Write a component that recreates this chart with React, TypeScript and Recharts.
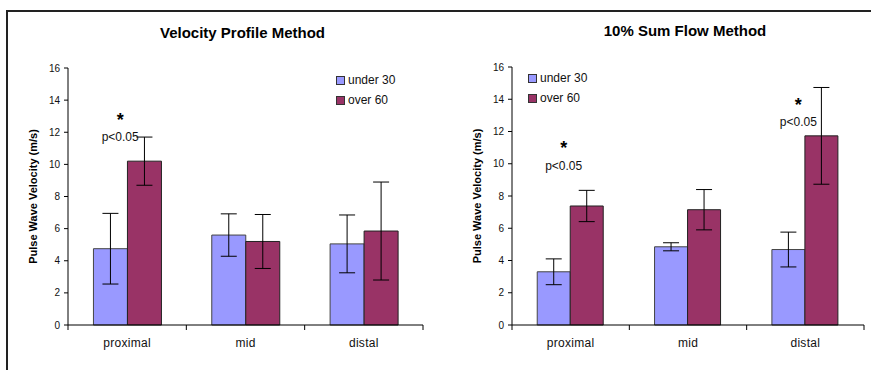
import React from 'react';
import { BarChart, Bar, XAxis, YAxis, ErrorBar, ReferenceDot } from 'recharts';

const categories = ['proximal', 'mid', 'distal'];
const yTicks = [0, 2, 4, 6, 8, 10, 12, 14, 16];

// Velocity Profile Method
const vpUnder30 = [4.75, 5.6, 5.05];
const vpUnder30Err = [2.2, 1.32, 1.8];
const vpOver60 = [10.2, 5.2, 5.85];
const vpOver60Err = [1.5, 1.68, 3.05];
const vpMarks = [{ category: 'proximal', p: 11.7 }];

// 10% Sum Flow Method
const sfUnder30 = [3.3, 4.85, 4.68];
const sfUnder30Err = [0.8, 0.25, 1.08];
const sfOver60 = [7.38, 7.15, 11.73];
const sfOver60Err = [0.97, 1.25, 3.0];
const sfMarks = [
  { category: 'proximal', p: 9.88 },
  { category: 'distal', p: 12.58 },
];

const FONT = '"Liberation Sans", Arial, sans-serif';
const BLUE = '#9999FF';
const PLUM = '#993366';

const build = (u: number[], ue: number[], o: number[], oe: number[]) =>
  categories.map((name, i) => ({ name, under30: u[i], under30Err: ue[i], over60: o[i], over60Err: oe[i] }));

type Mark = { category: string; p: number };

interface ChartProps {
  title: string;
  data: ReturnType<typeof build>;
  marks: Mark[];
  left: number;
  width: number;
  margin: { top: number; right: number; bottom: number; left: number };
  titleTop: number;
  legendLeft: number;
  legendTop: number;
}

const PwvChart: React.FC<ChartProps> = ({ title, data, marks, left, width, margin, titleTop, legendLeft, legendTop }) => {
  const plotW = width - margin.left - margin.right - 40;
  const step = plotW / categories.length;
  const plotCenter = margin.left + 40 + plotW / 2;

  const CatTick = (props: any) => {
    const { x, y, payload, index } = props;
    const lx = x - step / 2;
    return (
      <g>
        <line x1={lx} y1={y} x2={lx} y2={y + 5} stroke="#000" />
        {index === categories.length - 1 && <line x1={x + step / 2} y1={y} x2={x + step / 2} y2={y + 5} stroke="#000" />}
        <text x={x} y={y + 22} textAnchor="middle" fontSize={12} fontFamily={FONT} fill="#111" letterSpacing={0.3}>
          {payload.value}
        </text>
      </g>
    );
  };

  // asterisk + p value, stacked
  const sigLabel = (props: any) => {
    const tx = props.cx - 7;
    const base = props.cy + 4;
    return (
      <g>
        <text x={tx} y={base - 15.5} textAnchor="middle" fontSize={18} fontWeight="bold" fontFamily={FONT} fill="#000">
          *
        </text>
        <text x={tx} y={base} textAnchor="middle" fontSize={12} fontFamily={FONT} fill="#111">
          p&lt;0.05
        </text>
      </g>
    );
  };

  return (
    <div style={{ position: 'absolute', left, top: 0, width, height: 370 }}>
      <div
        style={{
          position: 'absolute',
          left: plotCenter - 153,
          width: 300,
          top: titleTop,
          textAlign: 'center',
          fontFamily: FONT,
          fontWeight: 'bold',
          fontSize: 15,
          color: '#000',
        }}
      >
        {title}
      </div>
      <BarChart width={width} height={370} data={data} margin={margin} barCategoryGap="21.5%" barGap={0}>
        <XAxis
          dataKey="name"
          height={30}
          axisLine={{ stroke: '#000' }}
          tickLine={false}
          tickSize={0}
          tickMargin={0}
          tick={<CatTick />}
          interval={0}
        />
        <YAxis
          width={40}
          domain={[0, 16]}
          ticks={yTicks}
          interval={0}
          tickSize={4}
          tickMargin={4}
          axisLine={{ stroke: '#000' }}
          tickLine={{ stroke: '#000' }}
          tick={{ fontSize: 10, fontFamily: FONT, fill: '#111' }}
          label={{
            content: (p: any) => {
              const vb = p.viewBox;
              const cx = vb.x + 5;
              const cy = vb.y + vb.height / 2;
              return (
                <text
                  x={cx}
                  y={cy}
                  transform={`rotate(-90 ${cx} ${cy})`}
                  textAnchor="middle"
                  dominantBaseline="central"
                  fontSize={11}
                  fontWeight="bold"
                  fontFamily={FONT}
                  fill="#000"
                >
                  Pulse Wave Velocity (m/s)
                </text>
              );
            },
          }}
        />
        <Bar dataKey="under30" fill={BLUE} stroke="#444" strokeWidth={1} isAnimationActive={false}>
          <ErrorBar dataKey="under30Err" width={8} stroke="#000" strokeWidth={1} direction="y" isAnimationActive={false} />
        </Bar>
        <Bar dataKey="over60" fill={PLUM} stroke="#222" strokeWidth={1} isAnimationActive={false}>
          <ErrorBar dataKey="over60Err" width={8} stroke="#000" strokeWidth={1} direction="y" isAnimationActive={false} />
        </Bar>
        {marks.map((m) => (
          <ReferenceDot key={m.category} x={m.category} y={m.p} r={0} shape={sigLabel} />
        ))}
      </BarChart>
      <div style={{ position: 'absolute', left: legendLeft, top: legendTop, fontFamily: FONT, fontSize: 12, color: '#111' }}>
        {[
          { label: 'under 30', color: BLUE },
          { label: 'over 60', color: PLUM },
        ].map((it) => (
          <div key={it.label} style={{ display: 'flex', alignItems: 'center', height: 20 }}>
            <span style={{ display: 'inline-block', width: 7, height: 7, background: it.color, border: '1px solid #333', marginRight: 3 }} />
            {it.label}
          </div>
        ))}
      </div>
    </div>
  );
};

export default function App() {
  return (
    <div style={{ position: 'absolute', left: 0, top: 0, width: 871, height: 370, background: '#fff', overflow: 'hidden' }}>
      <div
        style={{
          position: 'absolute',
          left: 6,
          top: 10,
          width: 880,
          height: 380,
          borderTop: '2px solid #222',
          borderLeft: '2px solid #222',
        }}
      />
      <PwvChart
        title="Velocity Profile Method"
        data={build(vpUnder30, vpUnder30Err, vpOver60, vpOver60Err)}
        marks={vpMarks}
        left={0}
        width={435}
        margin={{ top: 68, right: 12, bottom: 15, left: 28 }}
        titleTop={24}
        legendLeft={336}
        legendTop={70}
      />
      <PwvChart
        title="10% Sum Flow Method"
        data={build(sfUnder30, sfUnder30Err, sfOver60, sfOver60Err)}
        marks={sfMarks}
        left={435}
        width={436}
        margin={{ top: 67, right: 7, bottom: 15, left: 37 }}
        titleTop={22}
        legendLeft={93}
        legendTop={68}
      />
    </div>
  );
}
